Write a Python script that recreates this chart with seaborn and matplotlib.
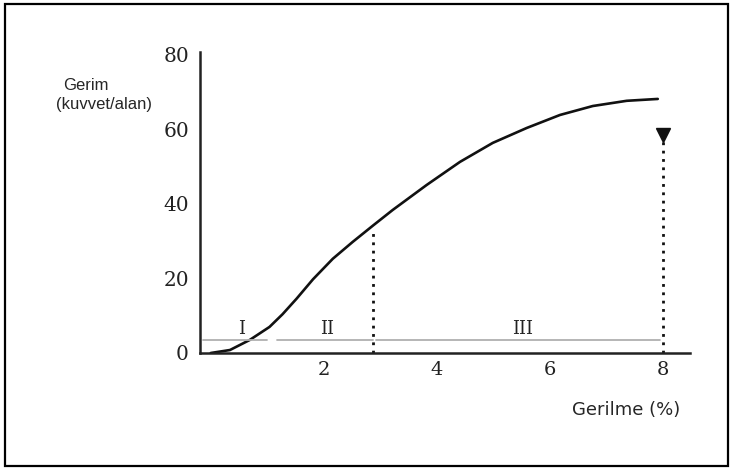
import matplotlib
matplotlib.use("Agg")
import matplotlib.pyplot as plt
import matplotlib.patches as patches
import pandas as pd
import seaborn as sns

# stress-strain curve
strain = [0.0, 0.34, 0.69, 1.04, 1.27, 1.52, 1.81, 2.16, 2.51, 2.87, 3.22,
          3.82, 4.41, 4.99, 5.59, 6.18, 6.76, 7.36, 7.91]
stress = [0.0, 0.8, 3.5, 7.0, 10.4, 14.6, 19.8, 25.3, 29.8, 34.2, 38.4,
          45.1, 51.3, 56.4, 60.4, 63.9, 66.3, 67.7, 68.2]

# dotted markers
drop_x = [2.87, 8.0]
drop_top = [33.0, 57.0]
arrow_y = 58.4

# regions I, II, III
region_names = ["I", "II", "III"]
region_start = [-0.14, 1.17, 2.92]
region_end = [1.0, 2.87, 7.95]
region_label_x = [0.55, 2.05, 5.52]
region_level = 3.4

x_ticks = [2, 4, 6, 8]
y_ticks = [0, 20, 40, 60, 80]

sns.set_style("white")
plt.rcParams["font.family"] = ["DejaVu Sans"]

W, H = 733, 470
fig = plt.figure(figsize=(W / 100, H / 100), dpi=100)
ax = fig.add_axes([200 / W, 1 - 353 / H, 490 / W, 301 / H])

df = pd.DataFrame({"strain": strain, "stress": stress})
sns.lineplot(data=df, x="strain", y="stress", ax=ax, color="#111111",
             linewidth=1.9, sort=False)

for x0, x1 in zip(region_start, region_end):
    ax.plot([x0, x1], [region_level, region_level], color="#b0b0b0", lw=1.3)
for name, lx in zip(region_names, region_label_x):
    ax.text(lx, region_level + 0.6, name, ha="center", va="bottom",
            family="DejaVu Serif", fontsize=13, color="#222222")

ax.vlines(drop_x, 0, drop_top, colors="#111111", linestyles=(0, (1, 2)), lw=2)
ax.plot([drop_x[1]], [arrow_y], marker="v", markersize=9.5, color="#111111")

ax.set_xlim(-0.19, 8.48)
ax.set_ylim(0, 80.8)
ax.set_xticks(x_ticks)
ax.set_yticks(y_ticks)
ax.set_xticklabels([str(t) for t in x_ticks], family="DejaVu Serif", fontsize=14)
ax.set_yticklabels([str(t) for t in y_ticks], family="DejaVu Serif", fontsize=14.5)
ax.tick_params(axis="x", direction="inout", length=4, width=2, pad=4, colors="#222222")
ax.tick_params(axis="y", direction="out", length=4, width=1.5, pad=4, colors="#222222")
ax.set_xlabel("")
ax.set_ylabel("")
sns.despine(ax=ax)
for s in ["left", "bottom"]:
    ax.spines[s].set_linewidth(1.8)
    ax.spines[s].set_color("#222222")

fig.text(63 / W, 1 - 86 / H, "Gerim", ha="left", va="center",
         family="Liberation Sans", fontsize=12)
fig.text(56 / W, 1 - 104 / H, "(kuvvet/alan)", ha="left", va="center",
         family="Liberation Sans", fontsize=12)
fig.text(626 / W, 1 - 410 / H, "Gerilme (%)", ha="center", va="center",
         family="DejaVu Sans", fontsize=13)

fig.patches.append(patches.Rectangle((5 / W, 4 / H), 723 / W, 462 / H,
                                     transform=fig.transFigure, fill=False,
                                     edgecolor="black", lw=1.6))

fig.savefig("out.png", dpi=100)
